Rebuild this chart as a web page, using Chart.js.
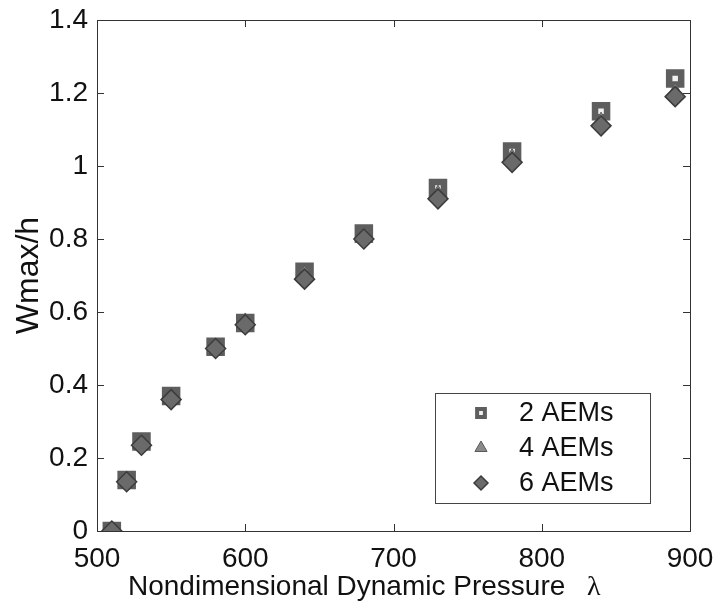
<!DOCTYPE html>
<html>
<head>
<meta charset="utf-8">
<script src="https://cdn.jsdelivr.net/npm/chart.js@4"></script>
<style>
    html, body { margin: 0; padding: 0; background: #fff; }
    #wrap { width: 721px; height: 605px; }
</style>
</head>
<body>
<div id="wrap"><canvas id="aemChart"></canvas></div>
<script>
(function() {
    'use strict';

    // values
    var lambdaValues = [510, 520, 530, 550, 580, 600, 640, 680, 730, 780, 840, 890];
    var aem2Values = [0.00, 0.14, 0.245, 0.37, 0.505, 0.57, 0.71, 0.815, 0.94, 1.04, 1.15, 1.24];
    var aem4Values = [0.00, 0.135, 0.24, 0.365, 0.50, 0.57, 0.70, 0.805, 0.92, 1.02, 1.12, 1.20];
    var aem6Values = [0.00, 0.135, 0.235, 0.36, 0.50, 0.565, 0.69, 0.80, 0.91, 1.01, 1.11, 1.19];
    var seriesLabels = ['2 AEMs', '4 AEMs', '6 AEMs'];
    var xTickValues = [500, 600, 700, 800, 900];
    var yTickValues = [0, 0.2, 0.4, 0.6, 0.8, 1, 1.2, 1.4];
    var xTitle = 'Nondimensional Dynamic Pressure';
    var xTitleSymbol = '\u03bb';

    var FONT = '"Liberation Sans", Arial, sans-serif';
    var SERIF = '"Liberation Serif", "Times New Roman", serif';

    function toPoints(ys) {
        return lambdaValues.map(function(x, i) {
            return { x: x, y: ys[i] };
        });
    }

    var datasets = [{
        label: seriesLabels[2],
        data: toPoints(aem6Values),
        pointStyle: 'rectRot',
        pointRadius: 10,
        backgroundColor: '#6a6a6a',
        borderColor: '#3c3c3c',
        borderWidth: 1.5
    }, {
        label: seriesLabels[1],
        data: toPoints(aem4Values),
        pointStyle: 'triangle',
        pointRadius: 10,
        backgroundColor: '#8a8a8a',
        borderColor: '#5a5a5a',
        borderWidth: 1
    }, {
        label: seriesLabels[0],
        data: toPoints(aem2Values),
        pointStyle: 'rect',
        pointRadius: 8.5,
        backgroundColor: '#f0f0f0',
        borderColor: '#5e5e5e',
        borderWidth: 6.5
    }];
    datasets.forEach(function(ds) {
        ds.showLine = false;
        ds.pointHoverRadius = ds.pointRadius;
    });

    // box with inward ticks on all four sides
    var frameTicks = {
        id: 'frameTicks',
        afterDraw: function(chart) {
            var ctx = chart.ctx;
            var a = chart.chartArea;
            var xs = chart.scales.x;
            var ys = chart.scales.y;
            var len = 7;
            ctx.save();
            ctx.strokeStyle = '#333';
            ctx.lineWidth = 1;
            ctx.strokeRect(a.left + 0.5, a.top + 0.5, a.right - a.left, a.bottom - a.top);
            ctx.beginPath();
            xTickValues.forEach(function(v) {
                var px = Math.round(xs.getPixelForValue(v)) + 0.5;
                ctx.moveTo(px, a.bottom);
                ctx.lineTo(px, a.bottom - len);
                ctx.moveTo(px, a.top);
                ctx.lineTo(px, a.top + len);
            });
            yTickValues.forEach(function(v) {
                var py = Math.round(ys.getPixelForValue(v)) + 0.5;
                ctx.moveTo(a.left, py);
                ctx.lineTo(a.left + len, py);
                ctx.moveTo(a.right, py);
                ctx.lineTo(a.right - len, py);
            });
            ctx.stroke();

            // x axis title, sans text plus a serif lambda
            ctx.fillStyle = '#111';
            ctx.textBaseline = 'alphabetic';
            ctx.textAlign = 'left';
            ctx.font = '28px ' + FONT;
            ctx.fillText(xTitle, a.left + 31, 595);
            ctx.font = '28px ' + SERIF;
            ctx.fillText(xTitleSymbol, a.left + 490, 595);
            ctx.restore();
        }
    };

    // legend box drawn inside the plot area, lower right
    var insideLegend = {
        id: 'insideLegend',
        afterDraw: function(chart) {
            var ctx = chart.ctx;
            var a = chart.chartArea;
            var w = 215, h = 110;
            var bx = a.right - 40 - w;
            var by = a.bottom - 28 - h;
            ctx.save();
            ctx.fillStyle = '#fff';
            ctx.fillRect(bx, by, w, h);
            ctx.strokeStyle = '#444';
            ctx.lineWidth = 1;
            ctx.strokeRect(bx + 0.5, by + 0.5, w, h);
            [2, 1, 0].forEach(function(di, row) {
                var ds = chart.data.datasets[di];
                var cy = by + 20 + row * 35;
                ctx.fillStyle = ds.backgroundColor;
                ctx.strokeStyle = ds.borderColor;
                ctx.lineWidth = di === 2 ? 4 : ds.borderWidth;
                Chart.helpers.drawPoint(ctx, {
                    pointStyle: ds.pointStyle,
                    radius: di === 2 ? 5.5 : 7,
                    borderWidth: ctx.lineWidth
                }, bx + 46, cy);
                ctx.font = '27px ' + FONT;
                ctx.textBaseline = 'middle';
                ctx.textAlign = 'left';
                ctx.fillStyle = '#111';
                ctx.fillText(ds.label, bx + 84, cy + 1);
            });
            ctx.restore();
        }
    };

    var CHART = document.getElementById('aemChart');
    var aemChart = new Chart(CHART, {
        type: 'scatter',
        data: { datasets: datasets },
        plugins: [frameTicks, insideLegend],
        options: {
            responsive: true,
            maintainAspectRatio: false,
            animation: false,
            layout: { padding: { top: 20, right: 31, left: 0, bottom: 0 } },
            plugins: {
                legend: { display: false },
                tooltip: { enabled: false }
            },
            scales: {
                x: {
                    type: 'linear',
                    min: 500,
                    max: 900,
                    afterBuildTicks: function(scale) {
                        scale.ticks = xTickValues.map(function(v) { return { value: v }; });
                    },
                    afterFit: function(scale) {
                        scale.height = 74;
                        scale.paddingLeft = 0;
                        scale.paddingRight = 0;
                    },
                    grid: { display: false, drawTicks: false },
                    border: { display: false },
                    ticks: {
                        color: '#111',
                        padding: 11,
                        font: { family: FONT, size: 28 }
                    },
                    title: { display: false }
                },
                y: {
                    type: 'linear',
                    min: 0,
                    max: 1.4,
                    afterBuildTicks: function(scale) {
                        scale.ticks = yTickValues.map(function(v) { return { value: v }; });
                    },
                    afterFit: function(scale) {
                        scale.width = 97;
                        scale.paddingTop = 0;
                        scale.paddingBottom = 0;
                    },
                    grid: { display: false, drawTicks: false },
                    border: { display: false },
                    ticks: {
                        color: '#111',
                        padding: 9,
                        font: { family: FONT, size: 28 },
                        callback: function(v) { return String(Math.round(v * 10) / 10); }
                    },
                    title: {
                        display: true,
                        text: 'Wmax/h',
                        color: '#111',
                        font: { family: FONT, size: 32 },
                        padding: { top: 10, bottom: 0 }
                    }
                }
            }
        }
    });
}());
</script>
</body>
</html>
